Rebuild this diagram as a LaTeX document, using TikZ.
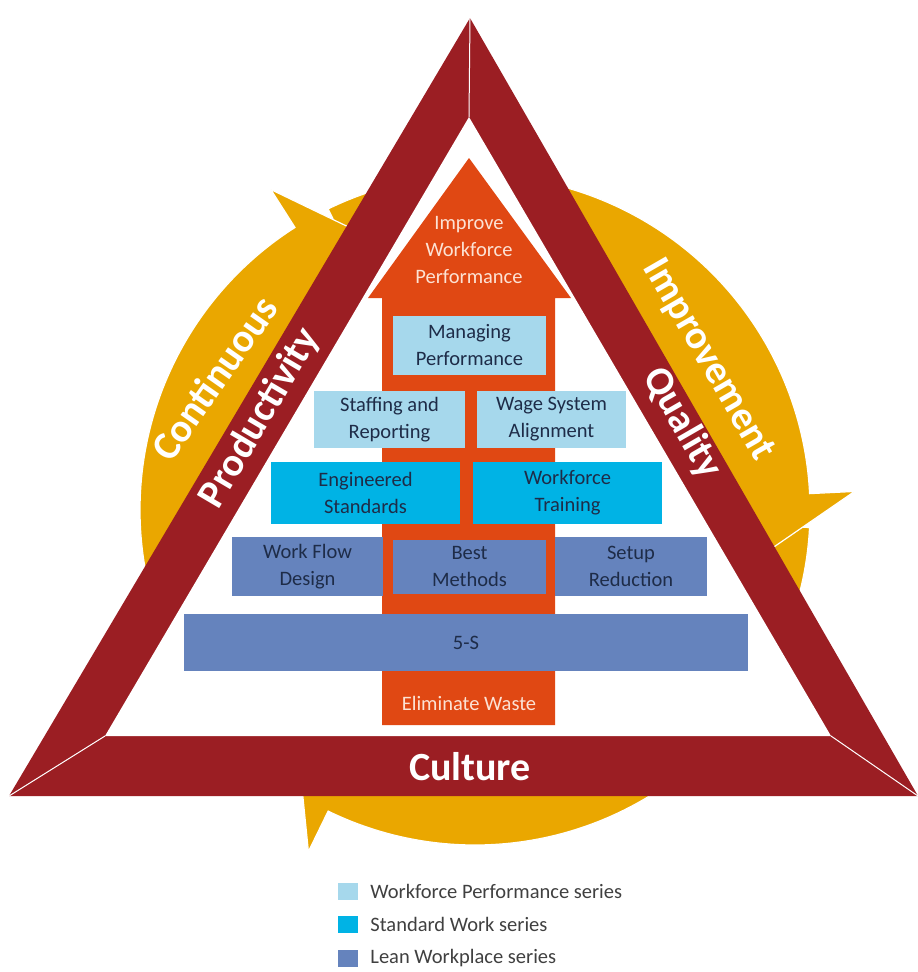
\documentclass[tikz,border=0pt]{standalone}
\usepackage{fontspec}
\setmainfont{Carlito}
\usetikzlibrary{positioning}

\definecolor{bandred}{HTML}{9B1E23}
\definecolor{ringgold}{HTML}{EAA700}
\definecolor{arroworange}{HTML}{E04813}
\definecolor{perfblue}{HTML}{A6D8EC}
\definecolor{stdblue}{HTML}{00B3E5}
\definecolor{leanblue}{HTML}{6583BD}
\definecolor{boxink}{HTML}{1E2C48}
\definecolor{peach}{HTML}{FCE2D4}

\newcommand{\boxfont}{\fontsize{20.5}{27}\selectfont}
\newcommand{\bandfont}{\fontsize{40}{40}\selectfont\bfseries}

\begin{document}
\begin{tikzpicture}[x=1pt,y=-1pt,
    box/.style={rectangle,inner sep=0pt,align=center,text=boxink,font=\boxfont},
    perf/.style={box,fill=perfblue},
    std/.style={box,fill=stdblue},
    lean/.style={box,fill=leanblue},
    arrow text/.style={align=center,text=peach,font=\boxfont,inner sep=0pt},
    band label/.style={text=white,font=\bandfont,inner sep=0pt},
    key/.style={minimum width=20pt,minimum height=17pt,inner sep=0pt},
    key text/.style={font=\boxfont,text=black!75,inner sep=0pt}]
  \useasboundingbox (0,0) rectangle (918,972);

  \begin{scope}[shift={(475,510)}]
    \foreach \s/\e in {3/116,244/357.2,123/237.5}
      \fill[ringgold,draw=white,line width=1.2pt] (\s:200) arc[start angle=\s,end angle=\e,radius=200]
        -- (\e:155) -- ({\e+18}:262) -- (\e:380) -- (\e:335)
        arc[start angle=\e,end angle=\s,radius=335] -- cycle;
  \end{scope}

  \coordinate (top) at (470,18);
  \coordinate (left) at (9,796);
  \coordinate (right) at (918,796);
  \coordinate (itop) at (469,117);
  \coordinate (ileft) at (105,736);
  \coordinate (iright) at (831,736);
  \fill[bandred] (top) -- (left) -- (right) -- cycle;
  \fill[white] (itop) -- (ileft) -- (iright) -- cycle;
  \draw[white,line width=1pt] (top) -- (itop) (left) -- (ileft) (right) -- (iright);

  \fill[arroworange] (382,725) -- (382,298) -- (368,298) -- (469,158) -- (571,298)
    -- (555,298) -- (555,725) -- cycle;

  \node[perf,minimum width=153pt,minimum height=59pt] (managing) at (469.5,345.5) {Managing\\Performance};
  \node[perf,minimum width=151pt,minimum height=57pt] (staffing) at (389.5,419.5) {Staffing and\\Reporting};
  \node[perf,minimum width=149pt,minimum height=57pt] (wage) at (551.5,419.5) {Wage System\\Alignment};
  \node[std,minimum width=189pt,minimum height=62pt] (engineered) at (365.5,493) {Engineered\\Standards};
  \node[std,minimum width=189pt,minimum height=62pt] (training) at (567.5,493) {Workforce\\Training};
  \node[lean,minimum width=151pt,minimum height=59pt] (workflow) at (307.5,566.5) {Work Flow\\Design};
  \node[lean,minimum width=153pt,minimum height=54pt] (bestmethods) at (469.5,566.5) {Best\\Methods};
  \node[lean,minimum width=152pt,minimum height=59pt] (setup) at (631,566.5) {Setup\\Reduction};
  \node[lean,minimum width=564pt,minimum height=57pt] (fives) at (466,642.5) {5-S};

  \node[arrow text] (improve) at (469,250) {Improve\\Workforce\\Performance};
  \node[arrow text] (waste) at (469,703) {Eliminate Waste};

  \node[band label] (culture) at (470,767) {Culture};
  \node[band label,rotate=59.5] (productivity) at (260,418) {Productivity};
  \node[band label,rotate=-60] (quality) at (682,423) {Quality};
  \node[band label,rotate=55] (continuous) at (214,378) {Continuous};
  \node[band label,rotate=-60] (improvement) at (708,360) {Improvement};

  \node[key,fill=perfblue] (keyperf) at (348,891.5) {};
  \node[key,fill=stdblue,below=16pt of keyperf] (keystd) {};
  \node[key,fill=leanblue,below=16pt of keystd] (keylean) {};
  \node[key text,right=12pt of keyperf] (perftext) {Workforce Performance series};
  \node[key text,right=12pt of keystd] (stdtext) {Standard Work series};
  \node[key text,right=12pt of keylean] (leantext) {Lean Workplace series};
\end{tikzpicture}
\end{document}
